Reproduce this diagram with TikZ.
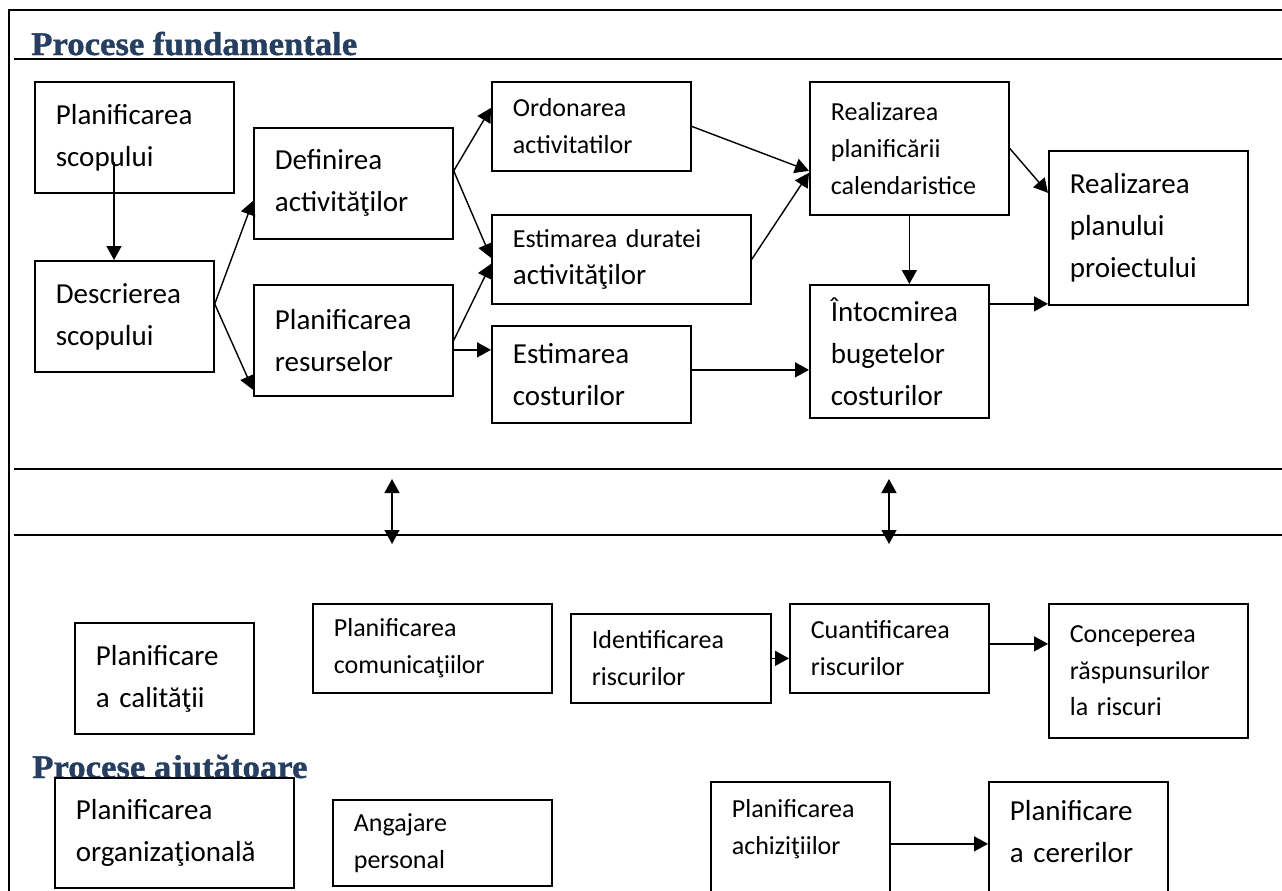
\documentclass[tikz,border=0pt]{standalone}
\usepackage{fontspec}
\setmainfont{Carlito}
\newfontfamily\headfont[FakeStretch=1.05,FakeBold=1.2]{Liberation Serif}
\usetikzlibrary{arrows.meta,positioning,calc}

\definecolor{titlublue}{RGB}{38,62,96}
\newcommand{\bigtxt}{\fontsize{16.5}{23.9}\selectfont}
\newcommand{\smalltxt}{\fontsize{14.8}{20.9}\selectfont}
\newcommand{\headtxt}{\headfont\bfseries\fontsize{18.8}{22}\selectfont}

\begin{document}
\begin{tikzpicture}[x=0.02cm,y=-0.02cm,
  box/.style={draw,line width=1pt,fill=white,anchor=north west,align=left,
    inner xsep=0.42cm,inner ysep=0pt,font=\bigtxt},
  mic/.style={font=\smalltxt},
  arr/.style={line width=0.8pt,-{Triangle[length=0.28cm,width=0.3cm]}},
  arrd/.style={line width=0.8pt,{Triangle[length=0.28cm,width=0.3cm]}-{Triangle[length=0.28cm,width=0.3cm]}},
  head/.style={font=\headtxt,text=titlublue,anchor=base west,inner sep=0pt}]
\clip (0,0) rectangle (1282,890);

% cadru si linii
\draw[line width=1.2pt] (1290,10) -- (9,10) -- (9,900);
\draw[line width=1.2pt] (14,59) -- (1290,59);
\draw[line width=1.2pt] (14,469) -- (1290,469);
\draw[line width=1.2pt] (14,535) -- (1290,535);

\node[head] (pf) at (31,55) {Procese fundamentale};
\node[head] (pa) at (32,778) {Procese ajutătoare};

% procese fundamentale
\node[box,text width=3.14cm,minimum height=2.22cm] (scop) at (34,81) {Planificarea\\scopului};
\node[box,text width=2.74cm,minimum height=2.22cm] (desc) at (34,260) {Descrierea\\scopului};
\node[box,text width=3.14cm,minimum height=2.22cm] (defact) at (253,127) {Definirea\\activităţilor};
\node[box,text width=3.14cm,minimum height=2.22cm] (planres) at (253,284) {Planificarea\\resurselor};
\node[box,mic,text width=3.14cm,minimum height=1.78cm] (ordon) at (491,81) {Ordonarea\\activitatilor};
\node[box,mic,text width=4.34cm,minimum height=1.78cm] (estdur) at (491,214) {Estimarea duratei\\{\bigtxt activităţilor}};
\node[box,text width=3.14cm,minimum height=1.94cm] (estcost) at (491,325) {Estimarea\\costurilor};
\node[box,mic,text width=3.14cm,minimum height=2.66cm] (realcal) at (809,81) {Realizarea\\planificării\\calendaristice};
\node[box,text width=3.14cm,minimum height=3.08cm] (realplan) at (1048,150) {Realizarea\\planului\\proiectului};
\node[box,text width=2.74cm,minimum height=2.66cm] (intoc) at (809,284) {Întocmirea\\bugetelor\\costurilor};

% procese ajutatoare
\node[box,text width=2.74cm,minimum height=2.22cm] (calit) at (74,622) {Planificare\\a calităţii};
\node[box,mic,text width=3.94cm,minimum height=1.78cm] (comun) at (312,603) {Planificarea\\comunicaţiilor};
\node[box,mic,text width=3.16cm,minimum height=1.78cm] (ident) at (570,613) {Identificarea\\riscurilor};
\node[box,mic,text width=3.14cm,minimum height=1.78cm] (cuant) at (789,603) {Cuantificarea\\riscurilor};
\node[box,mic,text width=3.14cm,minimum height=2.68cm] (concep) at (1048,603) {Conceperea\\răspunsurilor\\la riscuri};
\node[box,text width=3.94cm,minimum height=2.2cm] (organiz) at (54,777) {Planificarea\\organizaţională};
\node[box,mic,text width=3.54cm,minimum height=1.72cm] (angaj) at (332,799) {Angajare\\personal};
\node[box,mic,text width=2.74cm,text height=0.72cm,text depth=1.86cm] (achiz) at (710,781) {Planificarea\\achiziţiilor};
\node[box,text width=2.74cm,text height=0.78cm,text depth=1.8cm] (cereri) at (988,781) {Planificare\\a cererilor};

% legaturi
\coordinate (s1) at (114,162);
\draw[arr] (s1) -- (s1 |- desc.north);
\draw[arr] ([yshift=0.25cm]desc.east) -- ([yshift=-0.35cm]defact.west);
\draw[arr] ([yshift=0.25cm]desc.east) -- ([yshift=0.14cm]planres.south west);
\draw[arr] ([yshift=0.25cm]defact.east) -- ([yshift=0.37cm]ordon.west);
\draw[arr] ([yshift=0.25cm]defact.east) -- ([yshift=0.03cm]estdur.west);
\draw[arr] (planres.east) -- ([yshift=-0.09cm]estdur.west);
\draw[arr] ([yshift=-0.19cm]planres.east) -- ([yshift=-0.19cm]planres.east -| estcost.west);
\draw[arr] (ordon.east) -- ([yshift=-0.45cm]realcal.west);
\draw[arr] (estdur.east) -- ([yshift=-0.49cm]realcal.west);
\draw[arr] ([yshift=0.09cm]estcost.east) -- ([yshift=0.09cm]estcost.east -| intoc.west);
\draw[arr] (realcal.south) -- (realcal.south |- intoc.north);
\draw[arr] (realcal.east) -- ([yshift=0.7cm]realplan.west);
\draw[arr] ([yshift=0.95cm]intoc.east) -- ([yshift=0.95cm]intoc.east -| realplan.west);

\coordinate (u1) at (392,479);
\coordinate (d1) at (392,544);
\coordinate (u2) at (889,479);
\coordinate (d2) at (889,544);
\draw[arrd] (u1) -- (d1);
\draw[arrd] (u2) -- (d2);

\draw[arr] (ident.east) -- (ident.east -| cuant.west);
\draw[arr] ([yshift=0.09cm]cuant.east) -- ([yshift=0.09cm]cuant.east -| concep.west);
\draw[arr] ([yshift=0.05cm]achiz.east) -- ([yshift=0.05cm]achiz.east -| cereri.west);
\end{tikzpicture}
\end{document}
